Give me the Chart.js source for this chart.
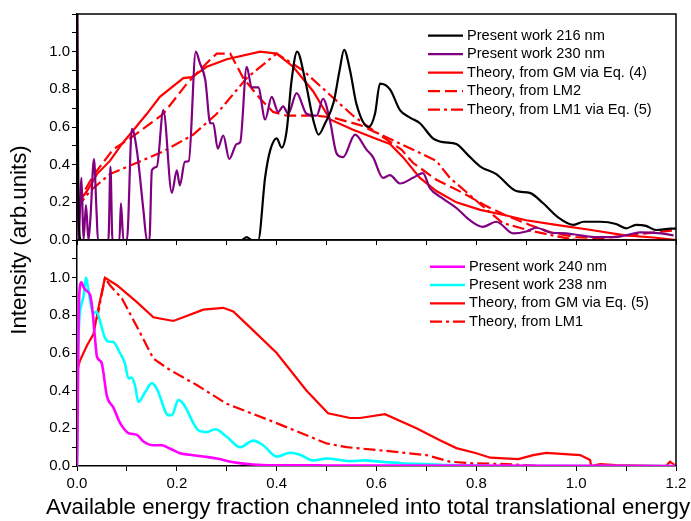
<!DOCTYPE html>
<html>
<head>
<meta charset="utf-8">
<script src="https://cdn.jsdelivr.net/npm/chart.js@4.4.1/dist/chart.umd.min.js"></script>
<style>
  html, body { margin: 0; padding: 0; background: #fff; }
  #wrap { position: relative; width: 691px; height: 521px; }
  #wrap canvas { position: absolute; left: 0; top: 0; }
</style>
</head>
<body>
<div id="wrap">
  <canvas id="upper" width="691" height="521"></canvas>
  <canvas id="lower" width="691" height="521"></canvas>
</div>
<script>
const FONT = "'Liberation Sans', Arial, Helvetica, sans-serif";

// ---- upper panel: 216 / 230 nm and theory ----
const x216 = [0, 0.003, 0.008, 0.33, 0.34, 0.35, 0.363, 0.377, 0.387, 0.40, 0.41, 0.42, 0.43, 0.441, 0.457, 0.474,
  0.484, 0.497, 0.514, 0.526, 0.535, 0.547, 0.56, 0.584, 0.597, 0.607, 0.627, 0.647, 0.667, 0.687, 0.713, 0.733,
  0.76, 0.78, 0.808, 0.84, 0.88, 0.907, 0.934, 0.964, 0.995, 1.015, 1.048, 1.08, 1.10, 1.12, 1.14, 1.16, 1.19, 1.2];
const y216 = [1.4, 0.12, 0, 0, 0.015, 0, 0, 0.335, 0.476, 0.54, 0.49, 0.58, 0.85, 1.0, 0.85, 0.63,
  0.56, 0.62, 0.73, 0.90, 1.01, 0.90, 0.72, 0.60, 0.67, 0.83, 0.80, 0.69, 0.65, 0.62, 0.54, 0.52,
  0.51, 0.46, 0.39, 0.35, 0.26, 0.25, 0.195, 0.12, 0.08, 0.097, 0.097, 0.085, 0.062, 0.08, 0.075, 0.053, 0.06, 0.06];

const x230 = [0, 0.003, 0.009, 0.013, 0.018, 0.023, 0.027, 0.034, 0.039, 0.042, 0.063, 0.067, 0.071, 0.085, 0.088, 0.093,
  0.10, 0.11, 0.12, 0.133, 0.14, 0.145, 0.15, 0.16, 0.173, 0.19, 0.20, 0.206, 0.216, 0.224, 0.238, 0.246,
  0.257, 0.267, 0.273, 0.282, 0.293, 0.305, 0.32, 0.327, 0.34, 0.35, 0.363, 0.377, 0.39, 0.403, 0.413, 0.423,
  0.44, 0.46, 0.48, 0.493, 0.507, 0.52, 0.533, 0.557, 0.58, 0.593, 0.613, 0.627, 0.647, 0.673, 0.693, 0.707,
  0.733, 0.76, 0.787, 0.813, 0.84, 0.874, 0.90, 0.92, 0.948, 0.98, 1.008, 1.04, 1.075, 1.10, 1.128, 1.17, 1.195];
const y230 = [1.5, 0, 0.33, 0, 0.185, 0, 0.12, 0.43, 0.16, 0, 0, 0.39, 0, 0, 0.195, 0,
  0, 0.59, 0.475, 0.16, 0, 0, 0.37, 0.39, 0.69, 0.25, 0.37, 0.29, 0.415, 0.42, 1.0, 0.94,
  0.85, 0.62, 0.62, 0.485, 0.555, 0.43, 0.51, 0.52, 0.92, 0.81, 0.81, 0.64, 0.76, 0.68, 0.71, 0.67,
  0.78, 0.67, 0.66, 0.75, 0.63, 0.46, 0.44, 0.56, 0.48, 0.44, 0.33, 0.345, 0.30, 0.33, 0.355, 0.275,
  0.22, 0.17, 0.105, 0.07, 0.097, 0.035, 0.045, 0.065, 0.04, 0.035, 0.025, 0.015, 0.015, 0.025, 0.04, 0.035, 0.025];

const xGM4 = [0, 0.02, 0.04, 0.066, 0.09, 0.112, 0.14, 0.166, 0.213, 0.23, 0.26, 0.30, 0.367, 0.40, 0.433, 0.473,
  0.507, 0.553, 0.607, 0.627, 0.653, 0.687, 0.72, 0.76, 0.808, 0.86, 0.90, 0.96, 1.03, 1.095, 1.16, 1.2];
const yGM4 = [0.19, 0.26, 0.35, 0.42, 0.51, 0.58, 0.67, 0.76, 0.86, 0.865, 0.92, 0.96, 1.0, 0.99, 0.92, 0.79,
  0.64, 0.585, 0.53, 0.51, 0.44, 0.33, 0.26, 0.20, 0.16, 0.13, 0.105, 0.08, 0.053, 0.026, 0.012, 0.0];

const xLM2 = [0, 0.032, 0.072, 0.112, 0.173, 0.22, 0.26, 0.28, 0.307, 0.333, 0.367, 0.393, 0.42, 0.48, 0.513, 0.567,
  0.60, 0.65, 0.673, 0.72, 0.773, 0.82, 0.86, 0.907, 0.95, 1.0, 1.05, 1.088, 1.14, 1.19, 1.2];
const yLM2 = [0.19, 0.34, 0.48, 0.55, 0.67, 0.83, 0.94, 0.99, 0.99, 0.86, 0.75, 0.68, 0.66, 0.66, 0.65, 0.61,
  0.57, 0.48, 0.41, 0.32, 0.25, 0.18, 0.13, 0.08, 0.04, 0.015, 0.01, 0.02, 0.035, 0.05, 0.05];

const xLM1a = [0, 0.026, 0.066, 0.12, 0.173, 0.233, 0.28, 0.34, 0.40, 0.453, 0.507, 0.553, 0.60, 0.633, 0.72, 0.747,
  0.808, 0.853, 0.907, 0.96, 1.0, 1.2];
const yLM1a = [0.17, 0.26, 0.35, 0.41, 0.47, 0.56, 0.67, 0.86, 0.99, 0.90, 0.77, 0.66, 0.57, 0.53, 0.42, 0.33,
  0.19, 0.09, 0.05, 0.02, 0.0, 0.0];

// ---- lower panel: 240 / 238 nm and theory ----
const x240 = [0, 0.001, 0.003, 0.005, 0.009, 0.013, 0.019, 0.026, 0.03, 0.036, 0.04, 0.049, 0.06, 0.073, 0.086, 0.103,
  0.12, 0.133, 0.153, 0.17, 0.186, 0.206, 0.226, 0.253, 0.28, 0.307, 0.353, 0.40, 0.5, 0.6, 1.2];
const y240 = [0, 0.17, 0.74, 0.93, 0.975, 0.95, 0.93, 0.91, 0.85, 0.68, 0.58, 0.55, 0.37, 0.31, 0.23, 0.175,
  0.165, 0.13, 0.11, 0.11, 0.093, 0.068, 0.06, 0.05, 0.04, 0.023, 0.008, 0.004, 0.003, 0.002, 0];

const x238 = [0, 0.002, 0.009, 0.013, 0.018, 0.023, 0.033, 0.039, 0.046, 0.056, 0.066, 0.072, 0.086, 0.096, 0.103, 0.109,
  0.116, 0.123, 0.136, 0.15, 0.16, 0.183, 0.19, 0.203, 0.213, 0.243, 0.26, 0.277, 0.30, 0.327, 0.353, 0.373,
  0.40, 0.427, 0.447, 0.473, 0.50, 0.547, 0.575, 0.607, 0.65, 0.70, 0.75, 0.80, 0.85, 1.2];
const y238 = [0, 0.6, 0.86, 0.90, 1.0, 0.93, 0.81, 0.82, 0.77, 0.68, 0.66, 0.66, 0.60, 0.545, 0.465, 0.47,
  0.43, 0.34, 0.39, 0.44, 0.41, 0.27, 0.27, 0.35, 0.33, 0.19, 0.18, 0.195, 0.155, 0.10, 0.135, 0.11,
  0.05, 0.07, 0.06, 0.03, 0.04, 0.026, 0.03, 0.023, 0.015, 0.01, 0.005, 0.003, 0, 0];

const xGM5 = [0, 0.006, 0.02, 0.033, 0.043, 0.056, 0.08, 0.12, 0.153, 0.193, 0.213, 0.253, 0.293, 0.313, 0.353, 0.40,
  0.46, 0.503, 0.547, 0.567, 0.617, 0.68, 0.727, 0.76, 0.80, 0.828, 0.884, 0.914, 0.94, 1.008, 1.028, 1.03,
  1.048, 1.08, 1.18, 1.188, 1.2];
const yGM5 = [0.50, 0.56, 0.64, 0.70, 0.84, 1.0, 0.96, 0.87, 0.79, 0.77, 0.79, 0.83, 0.84, 0.82, 0.72, 0.60,
  0.40, 0.28, 0.255, 0.255, 0.275, 0.20, 0.137, 0.095, 0.068, 0.044, 0.037, 0.058, 0.07, 0.058, 0.032, 0.0,
  0.01, 0.005, 0.0, 0.023, 0.0];

const xLM1b = [0.04, 0.056, 0.066, 0.09, 0.12, 0.153, 0.186, 0.24, 0.30, 0.393, 0.50, 0.54, 0.62, 0.70, 0.747, 0.79,
  0.86, 0.93, 1.2];
const yLM1b = [0.78, 1.0, 0.96, 0.89, 0.74, 0.57, 0.51, 0.43, 0.33, 0.235, 0.12, 0.10, 0.08, 0.058, 0.023, 0.015,
  0.01, 0.0, 0.0];

const pts = (xs, ys) => xs.map((x, i) => ({ x, y: ys[i] }));

const DASH = [12, 5];
const DASH_DOT = [12, 4, 3, 4];

function line(label, xs, ys, color, opts = {}) {
  return Object.assign({
    label,
    data: pts(xs, ys),
    borderColor: color,
    borderWidth: 2.2,
    pointRadius: 0,
    fill: false,
    tension: 0,
  }, opts);
}
const smooth = { cubicInterpolationMode: 'monotone' };

// frame, legend and axis titles
const decor = {
  id: 'decor',
  afterDraw(chart, args, opts) {
    const { ctx, chartArea: a } = chart;
    ctx.save();
    ctx.strokeStyle = '#000';
    ctx.lineWidth = 1.5;
    ctx.beginPath();
    ctx.moveTo(a.left, a.top);
    ctx.lineTo(a.right, a.top);
    ctx.lineTo(a.right, a.bottom);
    ctx.stroke();

    ctx.font = `14.6px ${FONT}`;
    ctx.textBaseline = 'middle';
    ctx.textAlign = 'left';
    chart.data.datasets.forEach((ds, i) => {
      const y = opts.y + i * opts.row;
      ctx.strokeStyle = ds.borderColor;
      ctx.lineWidth = ds.borderWidth;
      ctx.setLineDash(ds.borderDash || []);
      ctx.beginPath();
      ctx.moveTo(opts.x, y);
      ctx.lineTo(opts.x + 35, y);
      ctx.stroke();
      ctx.setLineDash([]);
      ctx.fillStyle = '#000';
      ctx.fillText(ds.label, opts.x + 39, y);
    });

    if (opts.titles) {
      ctx.fillStyle = '#000';
      ctx.font = `22.3px ${FONT}`;
      ctx.textAlign = 'center';
      ctx.textBaseline = 'middle';
      ctx.fillText('Available energy fraction channeled into total translational energy', 368, 508);
      ctx.translate(20, 240);
      ctx.rotate(-Math.PI / 2);
      ctx.font = `22.3px ${FONT}`;
      ctx.fillText('Intensity (arb.units)', 0, 0);
    }
    ctx.restore();
  }
};

function panelOptions(pad, showXLabels, legend) {
  const tickFont = { family: FONT, size: 15 };
  return {
    responsive: false,
    animation: false,
    devicePixelRatio: 1,
    layout: { padding: pad },
    plugins: {
      legend: { display: false },
      tooltip: { enabled: false },
      decor: legend,
    },
    scales: {
      x: {
        type: 'linear',
        min: 0,
        max: 1.2,
        border: { color: '#000', width: 1.5 },
        grid: { drawOnChartArea: false, drawTicks: true, tickLength: 5, color: '#000', tickWidth: 1 },
        ticks: {
          display: showXLabels,
          stepSize: 0.1,
          autoSkip: false,
          maxRotation: 0,
          padding: 4,
          color: '#000',
          font: tickFont,
          callback: v => (Math.round(v * 10) % 2 === 0 ? (Math.round(v * 10) / 10).toFixed(1) : ''),
        },
        afterFit: s => { s.height = showXLabels ? 55 : 5; },
      },
      y: {
        min: 0,
        max: 1.2,
        border: { color: '#000', width: 1.5 },
        grid: { drawOnChartArea: false, drawTicks: true, tickLength: 5, color: '#000', tickWidth: 1 },
        ticks: {
          stepSize: 0.1,
          autoSkip: false,
          padding: 2,
          color: '#000',
          font: tickFont,
          callback: v => {
            const k = Math.round(v * 10);
            return k % 2 === 0 && k <= 10 ? (k / 10).toFixed(1) : '';
          },
        },
        afterFit: s => { s.width = 77; },
      },
    },
  };
}

new Chart(document.getElementById('upper'), {
  type: 'line',
  data: {
    datasets: [
      line('Present work 216 nm', x216, y216, '#000000', smooth),
      line('Present work 230 nm', x230, y230, '#800080', smooth),
      line('Theory, from GM via Eq. (4)', xGM4, yGM4, '#ff0000'),
      line('Theory, from LM2', xLM2, yLM2, '#ff0000', { borderDash: DASH }),
      line('Theory, from LM1 via Eq. (5)', xLM1a, yLM1a, '#ff0000', { borderDash: DASH_DOT }),
    ],
  },
  options: panelOptions({ top: 14, right: 15, bottom: 276, left: 0 }, false,
    { x: 428, y: 35.7, row: 18.5, titles: false }),
  plugins: [decor],
});

new Chart(document.getElementById('lower'), {
  type: 'line',
  data: {
    datasets: [
      line('Present work 240 nm', x240, y240, '#ff00ff', Object.assign({ borderWidth: 2.6 }, smooth)),
      line('Present work 238 nm', x238, y238, '#00ffff', Object.assign({ borderWidth: 2.6 }, smooth)),
      line('Theory, from GM via Eq. (5)', xGM5, yGM5, '#ff0000'),
      line('Theory, from LM1', xLM1b, yLM1b, '#ff0000', { borderDash: DASH_DOT }),
    ],
  },
  options: panelOptions({ top: 240, right: 15, bottom: 0, left: 0 }, true,
    { x: 430, y: 266.7, row: 18.3, titles: true }),
  plugins: [decor],
});
</script>
</body>
</html>
